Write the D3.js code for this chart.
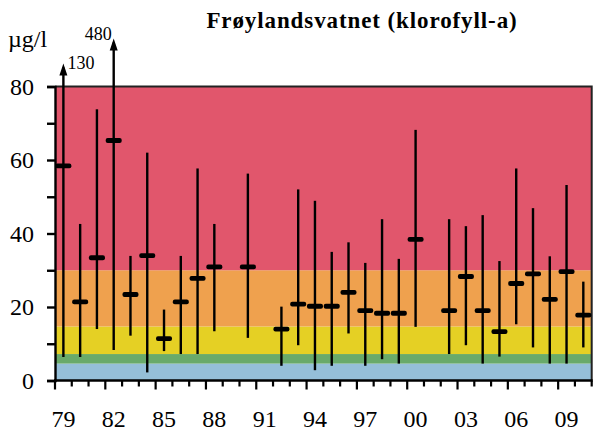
<!DOCTYPE html>
<html>
<head>
<meta charset="utf-8">
<script src="https://cdn.jsdelivr.net/npm/d3@7"></script>
<style>
  body { margin: 0; background: #fff; }
</style>
</head>
<body>
<div class="chart"></div>
<script>
const years = d3.range(1979, 2011);
// null = no measurement that year
const means = [58.4, 21.4, 33.4, 65.3, 23.4, 34.0, 11.4, 21.4, 27.8, 30.9, null, 30.9, null, 14.0, 20.8, 20.2,
               20.2, 24.0, 19.0, 18.3, 18.3, 38.4, null, 19.0, 28.3, 19.0, 13.3, 26.4, 29.0, 22.1, 29.6, 17.8];
const maxs  = [130, 42.6, 73.8, 480, 33.9, 62.0, 19.3, 33.9, 57.7, 42.6, null, 56.3, null, 20.1, 52.0, 48.9,
               35.0, 37.6, 32.0, 43.9, 33.1, 68.2, null, 43.9, 42.0, 45.0, 32.5, 57.7, 46.9, 33.8, 53.2, 26.9];
const mins  = [6.4, 6.4, 14.0, 8.3, 12.2, 2.2, 8.0, 7.2, 7.2, 13.4, null, 11.6, null, 4.0, 9.6, 2.8,
               4.0, 12.8, 4.0, 5.8, 4.6, 14.6, null, 7.2, 9.6, 4.6, 6.5, 15.3, 9.0, 4.6, 4.6, 9.0];
// quality classes (background bands)
const bandEdges = [0, 4.6, 7.2, 14.7, 30, 80];
const bandColors = ["#95bfd8", "#69aa6a", "#e5d024", "#efa14e", "#e1566c"];
const yTicks = d3.range(0, 81, 10);

const width = 593, height = 431;
const pLeft = 55, pRight = 591.7, pTop = 86.5, pBottom = 380.5;
const serif = "'Liberation Serif', 'Times New Roman', Times, serif";

const svg = d3.select(".chart").append("svg")
  .attr("width", width).attr("height", height)
  .style("font-family", serif);

const x = d3.scaleBand().domain(years).range([pLeft, pRight]).padding(0);
const y = d3.scaleLinear().domain([0, 80]).range([pBottom, pTop]);

// bands
svg.append("g").selectAll("rect")
  .data(bandColors)
  .join("rect")
    .attr("x", pLeft)
    .attr("width", pRight - pLeft)
    .attr("y", (d, i) => y(bandEdges[i + 1]))
    .attr("height", (d, i) => y(bandEdges[i]) - y(bandEdges[i + 1]))
    .attr("fill", d => d);

// frame top + right
svg.append("path")
  .attr("d", `M${pLeft},${pTop}H${pRight}V${pBottom}`)
  .attr("fill", "none").attr("stroke", "#222").attr("stroke-width", 2);

// y axis
const yAxis = svg.append("g")
  .attr("transform", `translate(${pLeft},0)`)
  .call(d3.axisLeft(y).tickValues(yTicks).tickSize(8).tickPadding(13)
        .tickFormat(d => d % 20 === 0 ? d : ""));
yAxis.attr("font-family", null).attr("font-size", null);
yAxis.select(".domain").attr("stroke", "#000").attr("stroke-width", 2.4);
yAxis.selectAll(".tick line").attr("stroke", "#000").attr("stroke-width", 2.4);
yAxis.selectAll(".tick text")
  .attr("fill", "#000")
  .style("font-family", serif)
  .style("font-size", "24px");

// x axis (ticks on category boundaries)
const xg = svg.append("g");
xg.append("line")
  .attr("x1", pLeft - 1).attr("x2", pRight + 1).attr("y1", pBottom).attr("y2", pBottom)
  .attr("stroke", "#000").attr("stroke-width", 2.4);
xg.selectAll("line.tk")
  .data(years.concat([null]))
  .join("line")
    .attr("class", "tk")
    .attr("x1", d => d === null ? pRight : x(d))
    .attr("x2", d => d === null ? pRight : x(d))
    .attr("y1", pBottom)
    .attr("y2", (d, i) => pBottom + (i % 3 === 0 ? 9 : 6))
    .attr("stroke", "#000").attr("stroke-width", 2.2);
xg.selectAll("text")
  .data(years.filter((d, i) => i % 3 === 0))
  .join("text")
    .attr("x", d => x(d) + x.bandwidth() / 2)
    .attr("y", 427)
    .attr("text-anchor", "middle")
    .style("font-family", serif)
    .style("font-size", "24px")
    .text(d => String(d).slice(2));

// error bars
const pts = years.map((yr, i) => ({ yr, mean: means[i], max: maxs[i], min: mins[i] }))
  .filter(d => d.mean !== null);
// off-scale maxima: arrow length above the 80 line, label offset
const arrowLen = { 1979: 23, 1982: 48 };
const arrowLbl = { 1979: { dx: 4, dy: 5, anchor: "start" }, 1982: { dx: -2, dy: 1, anchor: "end" } };
const cx = d => x(d.yr) + x.bandwidth() / 2;
const topY = d => d.max > 80 ? y(80) - arrowLen[d.yr] + 4 : y(d.max);

const bars = svg.append("g");
bars.selectAll("line")
  .data(pts)
  .join("line")
    .attr("x1", cx).attr("x2", cx)
    .attr("y1", d => y(d.min))
    .attr("y2", topY)
    .attr("stroke", "#000").attr("stroke-width", 2.4);

const over = pts.filter(d => d.max > 80);
bars.selectAll("path.arrow")
  .data(over)
  .join("path")
    .attr("class", "arrow")
    .attr("d", d => {
      const tip = y(80) - arrowLen[d.yr];
      return `M${cx(d)},${tip}L${cx(d) - 4},${tip + 12}L${cx(d) + 4},${tip + 12}Z`;
    })
    .attr("fill", "#000");
bars.selectAll("text")
  .data(over)
  .join("text")
    .attr("x", d => cx(d) + arrowLbl[d.yr].dx)
    .attr("y", d => y(80) - arrowLen[d.yr] + arrowLbl[d.yr].dy)
    .attr("text-anchor", d => arrowLbl[d.yr].anchor)
    .style("font-family", serif)
    .style("font-size", "18px")
    .text(d => d.max);

bars.selectAll("rect")
  .data(pts)
  .join("rect")
    .attr("x", d => cx(d) - 8)
    .attr("y", d => y(d.mean) - 2.4)
    .attr("width", 16)
    .attr("height", 4.8)
    .attr("rx", 2)
    .attr("fill", "#000");

// titles
svg.append("text")
  .attr("x", 362).attr("y", 28)
  .attr("text-anchor", "middle")
  .style("font-family", serif)
  .style("font-size", "23px").style("font-weight", "bold")
  .style("letter-spacing", "0.9px")
  .text("Frøylandsvatnet (klorofyll-a)");
svg.append("text")
  .attr("x", 8).attr("y", 47)
  .style("font-family", serif)
  .style("font-size", "24px")
  .text("µg/l");
</script>
</body>
</html>
